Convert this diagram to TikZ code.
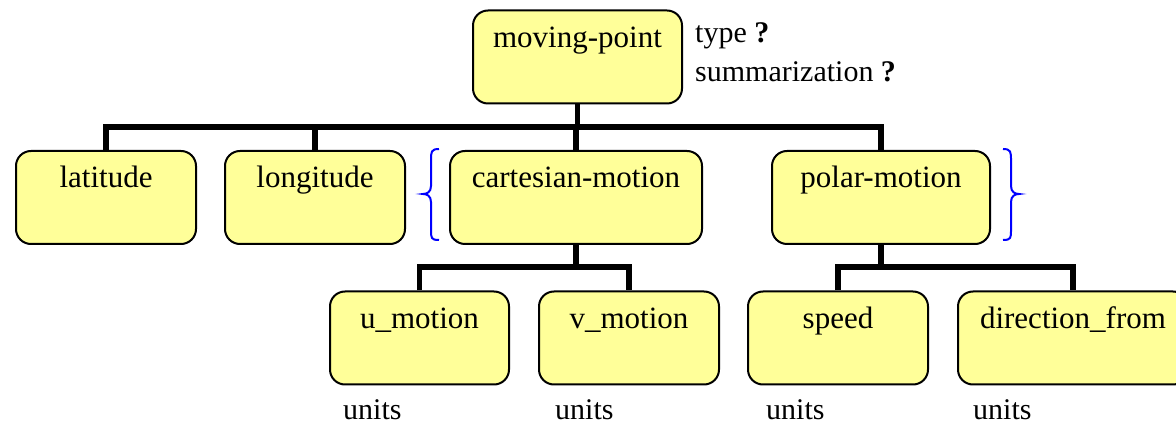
\documentclass[tikz,border=0pt]{standalone}
\usepackage{fontspec}
\setmainfont{Liberation Serif}
\definecolor{boxfill}{RGB}{255,255,153}
\tikzset{
  box/.style={draw=black, line width=2pt, fill=boxfill, rounded corners=15pt, minimum height=93pt, inner sep=0pt},
  lbl/.style={anchor=base, font=\fontsize{31}{37}\selectfont, inner sep=0pt},
  note/.style={anchor=base west, font=\fontsize{30}{36}\selectfont, inner sep=0pt},
  conn/.style={line width=5.5pt, line join=miter, line cap=butt},
  brc/.style={draw=blue, line width=2pt}
}
\begin{document}
\begin{tikzpicture}[x=1pt,y=-1pt]
\useasboundingbox (0,0) rectangle (1176,427);
% boxes
\node[box, minimum width=209pt] (mp) at (577.5,57) {};
\node[box, minimum width=180pt] (lat) at (106,197.5) {};
\node[box, minimum width=180pt] (lon) at (315,197.5) {};
\node[box, minimum width=252pt] (cart) at (576,197.5) {};
\node[box, minimum width=218pt] (pol) at (881,197.5) {};
\node[box, minimum width=179pt] (u) at (419.5,338) {};
\node[box, minimum width=180pt] (v) at (629,338) {};
\node[box, minimum width=180pt] (sp) at (838,338) {};
\node[box, minimum width=230pt] (dir) at (1073,338) {};
% labels
\node[lbl] (tmp) at ([yshift=-38pt]mp.north) {moving-point};
\node[lbl] (tlat) at ([yshift=-38pt]lat.north) {latitude};
\node[lbl] (tlon) at ([yshift=-38pt]lon.north) {longitude};
\node[lbl] (tcart) at ([yshift=-38pt]cart.north) {cartesian-motion};
\node[lbl] (tpol) at ([yshift=-38pt]pol.north) {polar-motion};
\node[lbl] (tu) at ([yshift=-38pt]u.north) {u\_motion};
\node[lbl] (tv) at ([yshift=-38pt]v.north) {v\_motion};
\node[lbl] (tsp) at ([yshift=-38pt]sp.north) {speed};
\node[lbl] (tdir) at ([yshift=-38pt]dir.north) {direction\_from};
% notes
\node[note] (n1) at (695,43) {type \textbf{?}};
\node[note] (n2) at (695,82) {summarization \textbf{?}};
\node[note] (un1) at (343,420) {units};
\node[note] (un2) at (555,420) {units};
\node[note] (un3) at (766,420) {units};
\node[note] (un4) at (973,420) {units};
% connectors
\coordinate (j1) at (0,127);
\coordinate (j2) at (0,267);
\draw[conn] (lat.north) -- (lat.north |- j1) -- (pol.north |- j1) -- (pol.north);
\draw[conn] (mp.south) -- (mp.south |- j1);
\draw[conn] (lon.north) -- (lon.north |- j1);
\draw[conn] (cart.north) -- (cart.north |- j1);
\draw[conn] (cart.south) -- (cart.south |- j2);
\draw[conn] (u.north) -- (u.north |- j2) -- (v.north |- j2) -- (v.north);
\draw[conn] (pol.south) -- (pol.south |- j2);
\draw[conn] (sp.north) -- (sp.north |- j2) -- (dir.north |- j2) -- (dir.north);
% braces
\draw[brc] (439,149) .. controls (431,149) and (431,152) .. (431,160) -- (431,186) .. controls (431,192) and (427,194) .. (423,194) .. controls (427,194) and (431,196) .. (431,202) -- (431,230) .. controls (431,238) and (431,240) .. (439,240);
\draw[brc] (1003,149) .. controls (1011,149) and (1011,152) .. (1011,160) -- (1011,186) .. controls (1011,192) and (1015,194) .. (1019,194) .. controls (1015,194) and (1011,196) .. (1011,202) -- (1011,230) .. controls (1011,238) and (1011,240) .. (1003,240);
\end{tikzpicture}
\end{document}
